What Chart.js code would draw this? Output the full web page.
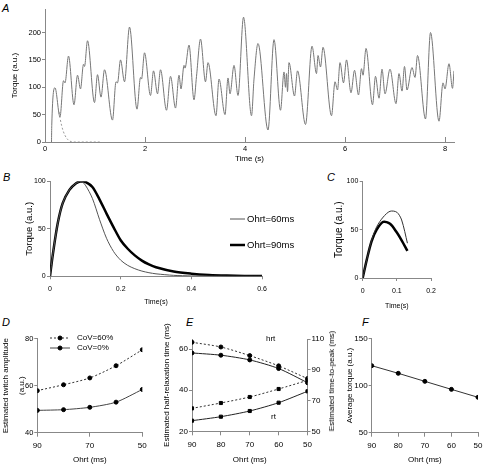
<!DOCTYPE html>
<html lang="en">
<head>
<meta charset="UTF-8">
<title>Twitch torque simulation</title>
<style>
  body { margin: 0; width: 483px; height: 464px; overflow: hidden; position: relative; background: #fff;
         font-family: "Liberation Sans", Arial, sans-serif; color: #000; }
  .panel { position: absolute; }
  .letter { position: absolute; font-style: italic; font-size: 11px; line-height: 1; }
  .note { position: absolute; font-size: 8px; line-height: 1; white-space: nowrap; }
  .rtitle { position: absolute; font-size: 8px; line-height: 1; white-space: nowrap;
            transform: translate(-50%, -50%) rotate(-90deg); }
</style>
</head>
<body>
<div class="letter" style="left:2px;top:2.5px">A</div>
<div class="letter" style="left:3px;top:171.5px">B</div>
<div class="letter" style="left:327px;top:171.5px">C</div>
<div class="letter" style="left:2px;top:316.5px">D</div>
<div class="letter" style="left:186px;top:316.5px">E</div>
<div class="letter" style="left:362px;top:316.5px">F</div>

<div class="panel" style="left:0;top:0;width:483px;height:166px"><canvas id="chartA"></canvas></div>
<div class="panel" style="left:0;top:166px;width:300px;height:145px"><canvas id="chartB"></canvas></div>
<div class="panel" style="left:300px;top:166px;width:183px;height:145px"><canvas id="chartC"></canvas></div>
<div class="panel" style="left:0;top:320px;width:160px;height:144px"><canvas id="chartD"></canvas></div>
<div class="panel" style="left:160px;top:320px;width:170px;height:144px"><canvas id="chartE"></canvas></div>
<div class="panel" style="left:320px;top:320px;width:163px;height:144px"><canvas id="chartF"></canvas></div>

<div class="note" style="left:266px;top:335px">hrt</div>
<div class="note" style="left:271px;top:413px">rt</div>
<div class="rtitle" style="left:332.3px;top:381px">Estimated time-to-peak (ms)</div>

<script src="https://cdn.jsdelivr.net/npm/chart.js"></script>
<script>
// A: summed torque trace, time (s) and torque (a.u.)
const aTime = [0.13, 0.135, 0.2, 0.3, 0.37, 0.4, 0.47, 0.58, 0.65, 0.71, 0.77, 0.79, 0.85, 0.99, 1.05, 1.12, 1.19, 1.35,
  1.42, 1.45, 1.51, 1.59, 1.69, 1.84, 1.91, 1.93, 1.99, 2.11, 2.17, 2.25, 2.31, 2.43, 2.51, 2.61, 2.68, 2.72, 2.78,
  2.8, 2.88, 2.98, 3.03, 3.11, 3.21, 3.26, 3.42, 3.48, 3.6, 3.66, 3.7, 3.78, 3.86, 3.97, 4.13, 4.18, 4.26, 4.46, 4.58,
  4.71, 4.78, 4.81, 4.83, 4.85, 4.88, 4.99, 5.05, 5.21, 5.34, 5.43, 5.46, 5.51, 5.56, 5.73, 5.8, 5.85, 5.9, 5.97,
  6.03, 6.12, 6.19, 6.27, 6.33, 6.36, 6.42, 6.55, 6.61, 6.68, 6.74, 6.8, 6.9, 7.02, 7.08, 7.14, 7.19, 7.24, 7.34,
  7.4, 7.45, 7.61, 7.71, 7.88, 7.96, 8.0, 8.08, 8.15, 8.18];
const aTorque = [0, 30, 99, 46, 112, 108, 157, 68, 122, 97, 142, 138, 185, 72, 123, 82, 132, 40,
  110, 108, 150, 110, 210, 60, 118, 115, 163, 85, 130, 88, 132, 58, 120, 62, 122, 97, 140,
  135, 177, 77, 120, 188, 110, 145, 48, 115, 50, 117, 88, 140, 85, 228, 48, 115, 180, 22, 187,
  58, 128, 100, 125, 92, 145, 84, 130, 32, 175, 125, 158, 137, 173, 48, 110, 95, 145, 108,
  150, 90, 131, 86, 134, 122, 171, 68, 120, 80, 133, 88, 133, 70, 125, 93, 138, 95, 136,
  118, 158, 42, 200, 38, 108, 97, 143, 98, 130];
// A: decay of a single twitch (dashed)
const aDecayTime = [0.28, 0.3, 0.33, 0.36, 0.4, 0.45, 0.5, 0.55, 1.1];
const aDecayTorque = [55, 44, 31, 21, 12, 5, 1.5, 0, 0];
const aTicksX = [0, 2, 4, 6, 8];
const aTicksY = [0, 50, 100, 150, 200];

// B: single twitches
const bTime = [0, 0.008, 0.022, 0.036, 0.055, 0.074, 0.088, 0.1, 0.12, 0.14, 0.16, 0.18, 0.2, 0.22, 0.24, 0.26,
  0.28, 0.3, 0.35, 0.4, 0.45, 0.5, 0.55, 0.6];
const bOhrt60 = [0, 23, 56, 77, 91, 98, 100, 96, 82, 60, 40, 26, 17, 11.5, 8, 5.5, 3.8, 2.6, 1.0, 0.4, 0.15, 0.05, 0, 0];
const bOhrt90 = [0, 23, 56, 77, 91, 98, 100, 99.5, 94, 81, 66, 51.5, 38, 29, 22, 16.5, 12.5, 9.5, 5, 2.8, 1.5, 0.8,
  0.4, 0.2];
const bTicksX = [0, 0.2, 0.4, 0.6];
const bTicksY = [0, 50, 100];

// C: estimated twitches
const cTime = [0, 0.012, 0.026, 0.041, 0.06, 0.08, 0.1, 0.114, 0.131];
const cThin = [0, 19, 39, 53, 63, 69, 68, 60, 36];
const cThick = [0, 19, 38, 50, 58, 56, 47, 39, 28];
const cTicksX = [0, 0.1, 0.2];
const cTicksY = [0, 50, 100];

// D, E, F: versus Ohrt (ms)
const ohrt = [90, 80, 70, 60, 50];
const dCov60 = [57.9, 60.4, 63.3, 68.5, 75.3];
const dCov0 = [49.5, 49.8, 50.8, 53.0, 58.4];
const dTicksX = [50, 70, 90];
const dTicksY = [40, 60, 80];

const eHrt60 = [63.4, 61.1, 56.9, 51.9, 45.7];
const eHrt0 = [58.2, 57.1, 54.8, 50.6, 43.7];
const eRt60 = [64.9, 68.4, 72.3, 77.5, 83.1];
const eRt0 = [56.9, 59.5, 63.2, 68.6, 76.0];
const eTicksX = [50, 60, 70, 80, 90];
const eTicksLeft = [20, 40, 60];
const eTicksRight = [50, 70, 90, 110];

const fTorque = [121, 112.9, 104.4, 95.9, 87.5];
const fTicksX = [50, 60, 70, 80, 90];
const fTicksY = [50, 100, 150];

Chart.defaults.font.family = '"Liberation Sans", Arial, sans-serif';
Chart.defaults.color = '#000';
Chart.defaults.animation = false;

const AXIS = '#888';

function pts(xs, ys) {
  return xs.map((x, i) => ({ x: x, y: ys[i] }));
}

// fix the size of an axis box so the chart area lands where the figure has it
function fixBox(size) {
  return function (s) {
    if (s.isHorizontal()) s.height = size; else s.width = size;
    s.paddingLeft = 0; s.paddingRight = 0; s.paddingTop = 0; s.paddingBottom = 0;
  };
}

function scale(o) {
  return {
    type: 'linear',
    position: o.position,
    min: o.min,
    max: o.max,
    reverse: !!o.reverse,
    afterFit: fixBox(o.size),
    afterBuildTicks: s => { s.ticks = o.ticks.map(v => ({ value: v })); },
    border: { color: AXIS, width: 1 },
    grid: { drawOnChartArea: false, drawTicks: true, tickLength: o.tickLength ?? 3, color: AXIS },
    ticks: { padding: o.tickPad ?? 1, font: { size: o.tickSize }, autoSkip: false, maxRotation: 0,
             callback: v => String(v) },
    title: o.title ? {
      display: true, text: o.title, padding: o.titlePad,
      font: { size: o.titleSize, lineHeight: o.titleLH ?? 1.2 }
    } : { display: false }
  };
}

// legend entries placed at given spots inside a panel
const spotLegend = {
  id: 'spotLegend',
  afterDraw(chart, args, opts) {
    if (!opts.items) return;
    const ctx = chart.ctx;
    opts.items.forEach(it => {
      const ds = chart.data.datasets[it.dataset];
      ctx.save();
      ctx.strokeStyle = ds.borderColor;
      ctx.lineWidth = ds.borderWidth;
      ctx.setLineDash(ds.borderDash || []);
      ctx.beginPath();
      ctx.moveTo(it.x, it.y);
      ctx.lineTo(it.x + opts.lineLength, it.y);
      ctx.stroke();
      ctx.setLineDash([]);
      if (ds.pointRadius) {
        ctx.fillStyle = ds.pointBackgroundColor;
        ctx.strokeStyle = ds.pointBorderColor;
        Chart.helpers.drawPoint(ctx, { pointStyle: ds.pointStyle || 'circle', radius: ds.pointRadius, borderWidth: 1 },
          it.x + opts.lineLength / 2, it.y);
      }
      ctx.fillStyle = '#000';
      ctx.font = opts.font;
      ctx.textBaseline = 'middle';
      ctx.fillText(ds.label, it.x + opts.lineLength + opts.gap, it.y);
      ctx.restore();
    });
  }
};
Chart.register(spotLegend);

function baseOptions(padding, scales, legend) {
  return {
    responsive: true,
    maintainAspectRatio: false,
    layout: { padding: padding },
    scales: scales,
    plugins: { legend: { display: false }, tooltip: { enabled: false }, spotLegend: legend || {} }
  };
}

// ---- A ----
new Chart(document.getElementById('chartA'), {
  type: 'line',
  data: {
    datasets: [
      { data: pts(aTime, aTorque), borderColor: '#777', borderWidth: 1, pointRadius: 0,
        cubicInterpolationMode: 'monotone' },
      { data: pts(aDecayTime, aDecayTorque), borderColor: '#999', borderWidth: 1, borderDash: [2, 2],
        pointRadius: 0, cubicInterpolationMode: 'monotone' }
    ]
  },
  options: baseOptions({ left: 0, right: 29, top: 9, bottom: 0 }, {
    x: scale({ position: 'bottom', min: 0, max: 8.18, ticks: aTicksX, size: 24, tickLength: -5, tickPad: 7,
               tickSize: 7.5, title: 'Time (s)', titleSize: 8, titlePad: 2 }),
    y: scale({ position: 'left', min: 0, max: 243, ticks: aTicksY, size: 45, tickLength: 3, tickPad: 1,
               tickSize: 7.5, title: 'Torque (a.u.)', titleSize: 8, titlePad: 10 })
  })
});

// ---- B ----
new Chart(document.getElementById('chartB'), {
  type: 'line',
  data: {
    datasets: [
      { label: 'Ohrt=60ms', data: pts(bTime, bOhrt60), borderColor: '#555', borderWidth: 1, pointRadius: 0,
        tension: 0.3 },
      { label: 'Ohrt=90ms', data: pts(bTime, bOhrt90), borderColor: '#000', borderWidth: 2.5, pointRadius: 0,
        tension: 0.3 }
    ]
  },
  options: baseOptions({ left: 0, right: 38, top: 15.3, bottom: 0 }, {
    x: scale({ position: 'bottom', min: 0, max: 0.6, ticks: bTicksX, size: 34.7, tickPad: 5.5, tickSize: 7,
               title: 'Time(s)', titleSize: 7, titlePad: 5 }),
    y: scale({ position: 'left', min: 0, max: 100, ticks: bTicksY, size: 50, tickPad: 1.3, tickSize: 7,
               title: 'Torque (a.u.)', titleSize: 9.5, titlePad: 23.5 })
  }, { items: [{ dataset: 0, x: 230, y: 53 }, { dataset: 1, x: 230, y: 79 }], lineLength: 15, gap: 2,
       font: '9.5px "Liberation Sans", Arial, sans-serif' })
});

// ---- C ----
new Chart(document.getElementById('chartC'), {
  type: 'line',
  data: {
    datasets: [
      { data: pts(cTime, cThin), borderColor: '#333', borderWidth: 1, pointRadius: 0, tension: 0.3 },
      { data: pts(cTime, cThick), borderColor: '#000', borderWidth: 2.5, pointRadius: 0, tension: 0.3 }
    ]
  },
  options: baseOptions({ left: 0, right: 52, top: 15.3, bottom: 0 }, {
    x: scale({ position: 'bottom', min: 0, max: 0.2, ticks: cTicksX, size: 33, tickPad: 5.5, tickSize: 7,
               title: 'Time(s)', titleSize: 7, titlePad: 1.1 }),
    y: scale({ position: 'left', min: 0, max: 100, ticks: cTicksY, size: 62.7, tickPad: 1.4, tickSize: 7,
               title: 'Torque (a.u.)', titleSize: 10, titlePad: 33.3 })
  })
});

// ---- D ----
const markerSet = { pointRadius: 2, pointBackgroundColor: '#000', pointBorderColor: '#000', pointStyle: 'circle' };
new Chart(document.getElementById('chartD'), {
  type: 'line',
  data: {
    datasets: [
      Object.assign({ label: 'CoV=60%', data: pts(ohrt, dCov60), borderColor: '#333', borderWidth: 1,
        borderDash: [2, 2], tension: 0.25 }, markerSet),
      Object.assign({ label: 'CoV=0%', data: pts(ohrt, dCov0), borderColor: '#444', borderWidth: 1,
        tension: 0.25 }, markerSet)
    ]
  },
  options: baseOptions({ left: 0, right: 17.7, top: 18.7, bottom: 0 }, {
    x: scale({ position: 'bottom', min: 50, max: 90, reverse: true, ticks: dTicksX, size: 31.3, tickLength: 4,
               tickPad: 4.3, tickSize: 8, title: 'Ohrt (ms)', titleSize: 8, titleLH: 1, titlePad: 0.7 }),
    y: scale({ position: 'left', min: 40, max: 80, ticks: dTicksY, size: 37.3, tickLength: 3, tickPad: 1,
               tickSize: 7.5, title: ['Estimated twitch amplitude', '(a.u.)'], titleSize: 8, titleLH: '16px',
               titlePad: -2 })
  }, { items: [{ dataset: 0, x: 50, y: 18 }, { dataset: 1, x: 50, y: 28 }], lineLength: 20, gap: 7,
       font: '8px "Liberation Sans", Arial, sans-serif' })
});

// ---- E ----
const squareSet = { pointRadius: 2.2, pointBackgroundColor: '#000', pointBorderColor: '#000', pointStyle: 'rect' };
new Chart(document.getElementById('chartE'), {
  type: 'line',
  data: {
    datasets: [
      Object.assign({ data: pts(ohrt, eHrt60), borderColor: '#333', borderWidth: 1, borderDash: [2, 2],
        tension: 0.25, yAxisID: 'y' }, markerSet),
      Object.assign({ data: pts(ohrt, eHrt0), borderColor: '#222', borderWidth: 1, tension: 0.25, yAxisID: 'y' }, markerSet),
      Object.assign({ data: pts(ohrt, eRt60), borderColor: '#333', borderWidth: 1, borderDash: [2, 2],
        tension: 0.25, yAxisID: 'y1' }, squareSet),
      Object.assign({ data: pts(ohrt, eRt0), borderColor: '#222', borderWidth: 1, tension: 0.25, yAxisID: 'y1' }, squareSet)
    ]
  },
  options: baseOptions({ left: 0, right: 0, top: 19, bottom: 0 }, {
    x: scale({ position: 'bottom', min: 50, max: 90, reverse: true, ticks: eTicksX, size: 32.7, tickLength: 4,
               tickPad: 4.3, tickSize: 8, title: 'Ohrt (ms)', titleSize: 8, titleLH: 1, titlePad: 0.7 }),
    y: scale({ position: 'left', min: 20, max: 65, ticks: eTicksLeft, size: 32, tickLength: 3, tickPad: 1,
               tickSize: 8, title: 'Estimated half-relaxation time (ms)', titleSize: 8, titlePad: 1.9 }),
    y1: scale({ position: 'right', min: 50, max: 110, ticks: eTicksRight, size: 22.5, tickLength: 3, tickPad: 1,
                tickSize: 8 })
  })
});

// ---- F ----
new Chart(document.getElementById('chartF'), {
  type: 'line',
  data: {
    datasets: [
      Object.assign({ data: pts(ohrt, fTorque), borderColor: '#333', borderWidth: 1 }, markerSet)
    ]
  },
  options: baseOptions({ left: 0, right: 3.7, top: 18.3, bottom: 0 }, {
    x: scale({ position: 'bottom', min: 50, max: 90, reverse: true, ticks: fTicksX, size: 31.3, tickLength: 4,
               tickPad: 4.3, tickSize: 8, title: 'Ohrt (ms)', titleSize: 8, titleLH: 1, titlePad: 0.7 }),
    y: scale({ position: 'left', min: 50, max: 150, ticks: fTicksY, size: 51.7, tickLength: 3, tickPad: 1,
               tickSize: 8, title: 'Average torque (a.u.)', titleSize: 8, titlePad: 24.5 })
  })
});
</script>
</body>
</html>
